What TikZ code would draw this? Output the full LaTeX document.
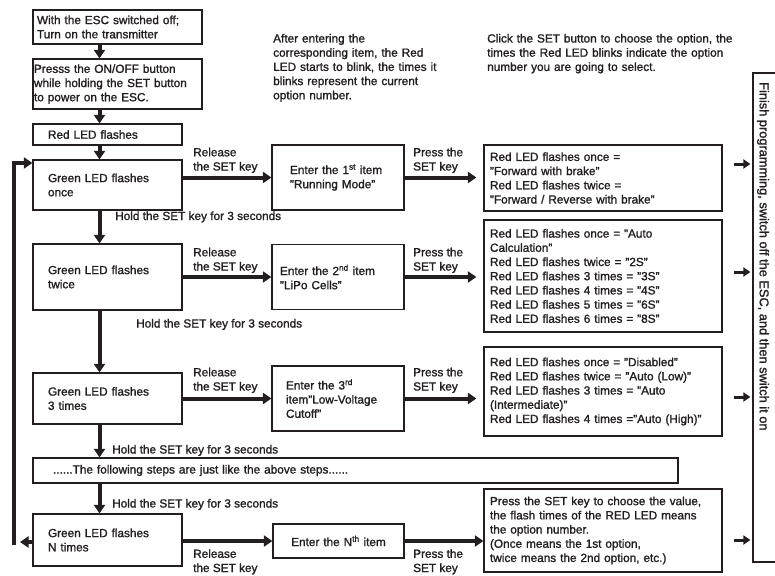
\documentclass[tikz,border=0pt]{standalone}
\usepackage{fontspec}
\setmainfont{Liberation Sans}[FakeBold=1.4]
\usetikzlibrary{arrows.meta}
\definecolor{ink}{HTML}{231F20}
\newcommand{\flowfont}{\fontsize{11.8}{14.2}\selectfont}

\begin{document}
\begin{tikzpicture}[
  x=1pt, y=-1pt, ink, text=ink,
  box/.style={draw, line width=1.2pt, align=left, font=\flowfont, inner ysep=0pt},
  green/.style={box, text width=119pt, inner xsep=15pt},
  item/.style={box, minimum height=65pt},
  opt/.style={box, text width=226pt, inner xsep=6pt},
  note/.style={font=\flowfont, align=left, inner sep=0pt, anchor=base west},
  flow/.style={-{Triangle[length=8.5pt,width=11pt]}, line width=4pt},
  tip/.style={-{Triangle[length=7pt,width=9pt]}, line width=3pt}
]
  \path[use as bounding box, clip] (0,0) rectangle (775,575);

  %-- Notes
  \node[note, text width=235pt] (hint1) at (273, 42.5) {After entering the\\corresponding item, the Red\\LED starts to blink, the times it\\blinks represent the current\\option number.};
  \node[note, text width=270pt] (hint2) at (487, 42.5) {Click the SET button to choose the option, the\\times the Red LED blinks indicate the option\\number you are going to select.};

  %-- Start
  \node[box, text width=161pt, inner xsep=4pt, minimum height=34pt] (start) at (117.5, 27)  {With the ESC switched off;\\Turn on the transmitter};
  \node[box, text width=167pt, inner xsep=1pt, minimum height=50pt] (press) at (117.5, 84)  {Presss the ON/OFF button\\while holding the SET button\\to power on the ESC.};
  \node[green, minimum height=21pt] (red)  at (107.5, 134.5) {Red LED flashes};

  %-- Green LED
  \node[green, minimum height=50pt] (g1)   at (107.5, 185)   {Green LED flashes\\once};
  \node[green, minimum height=66pt] (g2)   at (107.5, 277)   {Green LED flashes\\twice};
  \node[green, minimum height=51pt] (g3)   at (107.5, 398.5) {Green LED flashes\\3 times};
  \node[box, text width=605pt, inner xsep=20pt, minimum height=25pt] (more) at (355.5, 470.5) {......The following steps are just like the above steps......};
  \node[green, minimum height=52pt] (gN)   at (107.5, 540)   {Green LED flashes\\N times};

  %-- Items
  \node[item, text width=96pt,  inner xsep=18pt] (i1) at (338, 177.5) {Enter the 1\textsuperscript{st} item\\"Running Mode"};
  \node[item, text width=116pt, inner xsep=8pt]  (i2) at (338, 277)   {Enter the 2\textsuperscript{nd} item\\"LiPo Cells"};
  \node[item, text width=104pt, inner xsep=14pt] (i3) at (338, 398.5) {Enter the 3\textsuperscript{rd}\\item"Low-Voltage\\Cutoff"};
  \node[box, text width=123pt, inner xsep=4pt, minimum height=34pt, align=center] (iN) at (338.5, 541) {Enter the N\textsuperscript{th} item};

  %-- Options
  \node[opt, minimum height=66pt]  (o1) at (603, 178)   {Red LED flashes once =\\"Forward with brake"\\Red LED flashes twice =\\"Forward / Reverse with brake"};
  \node[opt, minimum height=112pt] (o2) at (603, 276)   {Red LED flashes once = "Auto\\Calculation"\\Red LED flashes twice = "2S"\\Red LED flashes 3 times = "3S"\\Red LED flashes 4 times = "4S"\\Red LED flashes 5 times = "6S"\\Red LED flashes 6 times = "8S"};
  \node[opt, minimum height=89pt]  (o3) at (603, 391.5) {Red LED flashes once = "Disabled"\\Red LED flashes twice = "Auto (Low)"\\Red LED flashes 3 times = "Auto\\(Intermediate)"\\Red LED flashes 4 times ="Auto (High)"};
  \node[opt, minimum height=83pt]  (oN) at (603, 530.5) {Press the SET key to choose the value,\\the flash times of the RED LED means\\the option number.\\(Once means the 1st option,\\twice means the 2nd option, etc.)};

  %-- Finish
  \node[draw, line width=1.2pt, minimum width=27pt, minimum height=489pt, inner sep=0pt] (fin) at (766.5, 317.5) {};
  \node[font=\fontsize{12.8}{15}\selectfont, rotate=-90, anchor=west, inner sep=0pt] (finText) at (763, 82) {Finish programming, switch off the ESC, and then switch it on};

  %-- Labels
  \node[note] (rel1) at (193, 170.5) {Release\\the SET key};
  \node[note] (rel2) at (193, 270.5) {Release\\the SET key};
  \node[note] (rel3) at (193, 390.5) {Release\\the SET key};
  \node[note] (relN) at (193, 572) {Release\\the SET key};
  \node[note] (set1) at (413, 170.5) {Press the\\SET key};
  \node[note] (set2) at (413, 270.5) {Press the\\SET key};
  \node[note] (set3) at (413, 390.5) {Press the\\SET key};
  \node[note] (setN) at (413, 572) {Press the\\SET key};
  \node[note] (hold1) at (115, 220) {Hold the SET key for 3 seconds};
  \node[note] (hold2) at (136, 327.5) {Hold the SET key for 3 seconds};
  \node[note] (hold3) at (112, 453.5) {Hold the SET key for 3 seconds};
  \node[note] (hold4) at (112, 507.5) {Hold the SET key for 3 seconds};

  %-- Arrows
  \coordinate (spine) at (99.5, 0);
  \coordinate (back)  at (14, 545);
  \draw[flow] (start.south -| spine) -- (press.north -| spine);
  \draw[flow] (press.south -| spine) -- (red.north -| spine);
  \draw[flow] (red.south -| spine)   -- (g1.north -| spine);
  \draw[flow] (g1.south -| spine)    -- (g2.north -| spine);
  \draw[flow] (g2.south -| spine)    -- (g3.north -| spine);
  \draw[flow] (g3.south -| spine)    -- (more.north -| spine);
  \draw[flow] (more.south -| spine)  -- (gN.north -| spine);

  \draw[flow] (g1.east |- i1.west) -- (i1.west);
  \draw[flow] (g2.east |- i2.west) -- (i2.west);
  \draw[flow] (g3.east |- i3.west) -- (i3.west);
  \draw[flow] (gN.east |- iN.west) -- (iN.west);

  \draw[flow, shorten >=7pt] (i1.east) -- (o1.west |- i1.east);
  \draw[flow, shorten >=7pt] (i2.east) -- (o2.west |- i2.east);
  \draw[flow, shorten >=7pt] (i3.east) -- (o3.west |- i3.east);
  \draw[flow] (iN.east) -- (oN.west |- iN.east);

  \draw[tip, shorten <=11pt, shorten >=2pt] ([yshift=14pt]o1.east) -- ([yshift=14pt]o1.east -| fin.west);
  \draw[tip, shorten <=11pt, shorten >=2pt] ([yshift=4pt]o2.east)  -- ([yshift=4pt]o2.east -| fin.west);
  \draw[tip, shorten <=11pt, shorten >=2pt] ([yshift=-5.5pt]o3.east) -- ([yshift=-5.5pt]o3.east -| fin.west);
  \draw[tip, shorten <=11pt, shorten >=2pt] ([yshift=-9.5pt]oN.east) -- ([yshift=-9.5pt]oN.east -| fin.west);

  %-- Loop back
  \draw[flow, shorten >=6pt] ([yshift=-2pt]gN.west) -- ([yshift=-2pt]gN.west -| back);
  \draw[flow] (back) |- ([yshift=22pt]g1.west);
\end{tikzpicture}
\end{document}
